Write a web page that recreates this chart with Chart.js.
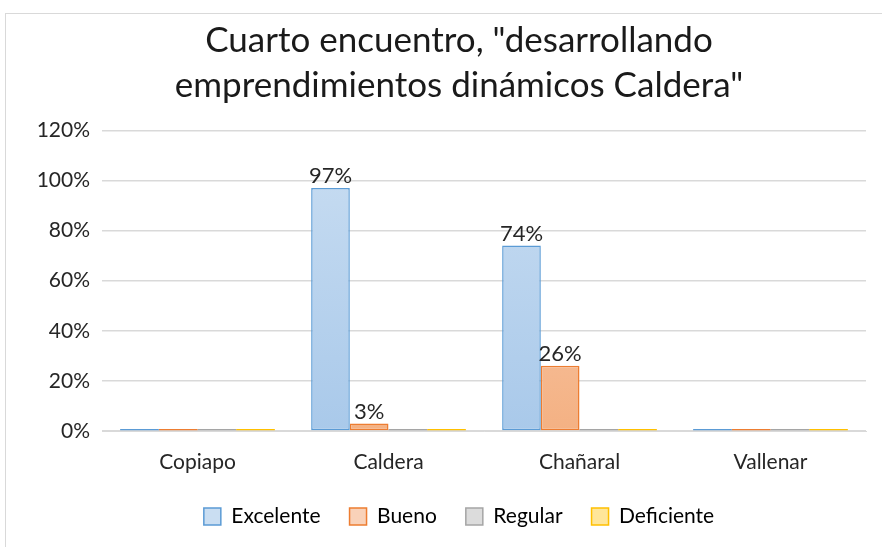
<!DOCTYPE html>
<html>
<head>
<meta charset="utf-8">
<script src="https://cdn.jsdelivr.net/npm/chart.js@4"></script>
<style>
  html, body { margin: 0; padding: 0; background: #fff; }
  #wrap { position: relative; width: 882px; height: 547px; overflow: hidden; }
  #frame { position: absolute; left: 5px; top: 13px; width: 900px; height: 600px; border: 1px solid #d9d9d9; }
  canvas { position: absolute; left: 0; top: 0; }
</style>
</head>
<body>
<div id="wrap">
  <div id="frame"></div>
  <canvas id="myChart" width="882" height="547"></canvas>
</div>
<script>
// data
const ciudades = ['Copiapo', 'Caldera', 'Chañaral', 'Vallenar'];
const excelente = [0, 0.97, 0.74, 0];
const bueno = [0, 0.03, 0.26, 0];
const regular = [0, 0, 0, 0];
const deficiente = [0, 0, 0, 0];
const yTicks = [0, 0.2, 0.4, 0.6, 0.8, 1.0, 1.2];

const fontName = 'Lato, "Open Sans", sans-serif';

// colors: [top, bottom, border]
const blue = ['#cadef2', '#a9c9ea', '#5b9bd5'];
const orange = ['#f9d2b9', '#f4b183', '#ed7d31'];
const gray = ['#dcdcdc', '#c9c9c9', '#a5a5a5'];
const yellow = ['#ffe69a', '#ffd966', '#ffc000'];

function grad(c) {
  return function (ctx) {
    if (ctx.raw === 0) return c[2];   // zero values show as a flat coloured line
    const area = ctx.chart.chartArea;
    if (!area) return c[1];
    const g = ctx.chart.ctx.createLinearGradient(0, area.top, 0, area.bottom);
    g.addColorStop(0, c[0]);
    g.addColorStop(1, c[1]);
    return g;
  };
}

function serie(label, data, c) {
  return {
    label: label,
    data: data,
    backgroundColor: grad(c),
    borderColor: c[2],
    borderWidth: ctx => (ctx.raw === 0 ? 0 : 1.5),
    borderSkipped: false,
    minBarLength: 2,
    categoryPercentage: 0.81,
    barPercentage: 1.0,
    legendFill: c[0]
  };
}

// labels on top of bars
const barLabels = {
  id: 'barLabels',
  afterDatasetsDraw(chart) {
    const ctx = chart.ctx;
    ctx.save();
    ctx.font = '22px ' + fontName;
    ctx.fillStyle = '#262626';
    ctx.textAlign = 'center';
    ctx.textBaseline = 'bottom';
    chart.data.datasets.forEach((ds, i) => {
      const meta = chart.getDatasetMeta(i);
      meta.data.forEach((bar, j) => {
        const v = ds.data[j];
        if (v > 0) {
          ctx.fillText(Math.round(v * 100) + '%', bar.x, bar.y - 1);
        }
      });
    });
    ctx.restore();
  }
};

const ctx = document.getElementById('myChart');

new Chart(ctx, {
  type: 'bar',
  data: {
    labels: ciudades,
    datasets: [
      serie('Excelente', excelente, blue),
      serie('Bueno', bueno, orange),
      serie('Regular', regular, gray),
      serie('Deficiente', deficiente, yellow)
    ]
  },
  plugins: [barLabels],
  options: {
    responsive: false,
    animation: false,
    layout: { padding: { left: 36, right: 0, top: 18, bottom: 10 } },
    plugins: {
      title: {
        display: true,
        text: ['Cuarto encuentro, "desarrollando', 'emprendimientos dinámicos Caldera"'],
        color: '#1a1a1a',
        font: { family: fontName, size: 35, weight: 'normal', lineHeight: 1.29 },
        padding: { top: 0, bottom: 22 }
      },
      legend: {
        position: 'bottom',
        labels: {
          color: '#262626',
          font: { family: fontName, size: 21 },
          boxWidth: 17,
          boxHeight: 17,
          padding: 29,
          generateLabels(chart) {
            return chart.data.datasets.map((ds, i) => ({
              text: ds.label,
              fillStyle: ds.legendFill,
              strokeStyle: ds.borderColor,
              lineWidth: 1.5,
              datasetIndex: i
            }));
          }
        }
      },
      tooltip: { enabled: false }
    },
    scales: {
      x: {
        grid: { display: false },
        border: { display: true, color: '#d9d9d9', width: 1 },
        ticks: { color: '#262626', font: { family: fontName, size: 21 }, padding: 11 },
        afterFit(scale) { scale.height = 46; }
      },
      y: {
        min: 0,
        max: 1.2,
        afterBuildTicks(scale) { scale.ticks = yTicks.map(v => ({ value: v })); },
        grid: { color: '#d9d9d9', lineWidth: 1.5, drawTicks: false },
        border: { display: false },
        ticks: {
          color: '#262626',
          font: { family: fontName, size: 21 },
          padding: 12,
          callback: v => Math.round(v * 100) + '%'
        },
        afterFit(scale) { scale.width = 66; }
      },
      // empty right axis only to keep the right margin
      yRight: {
        position: 'right',
        grid: { display: false },
        border: { display: false },
        ticks: { display: false },
        afterFit(scale) { scale.width = 16; }
      }
    }
  }
});
</script>
</body>
</html>
